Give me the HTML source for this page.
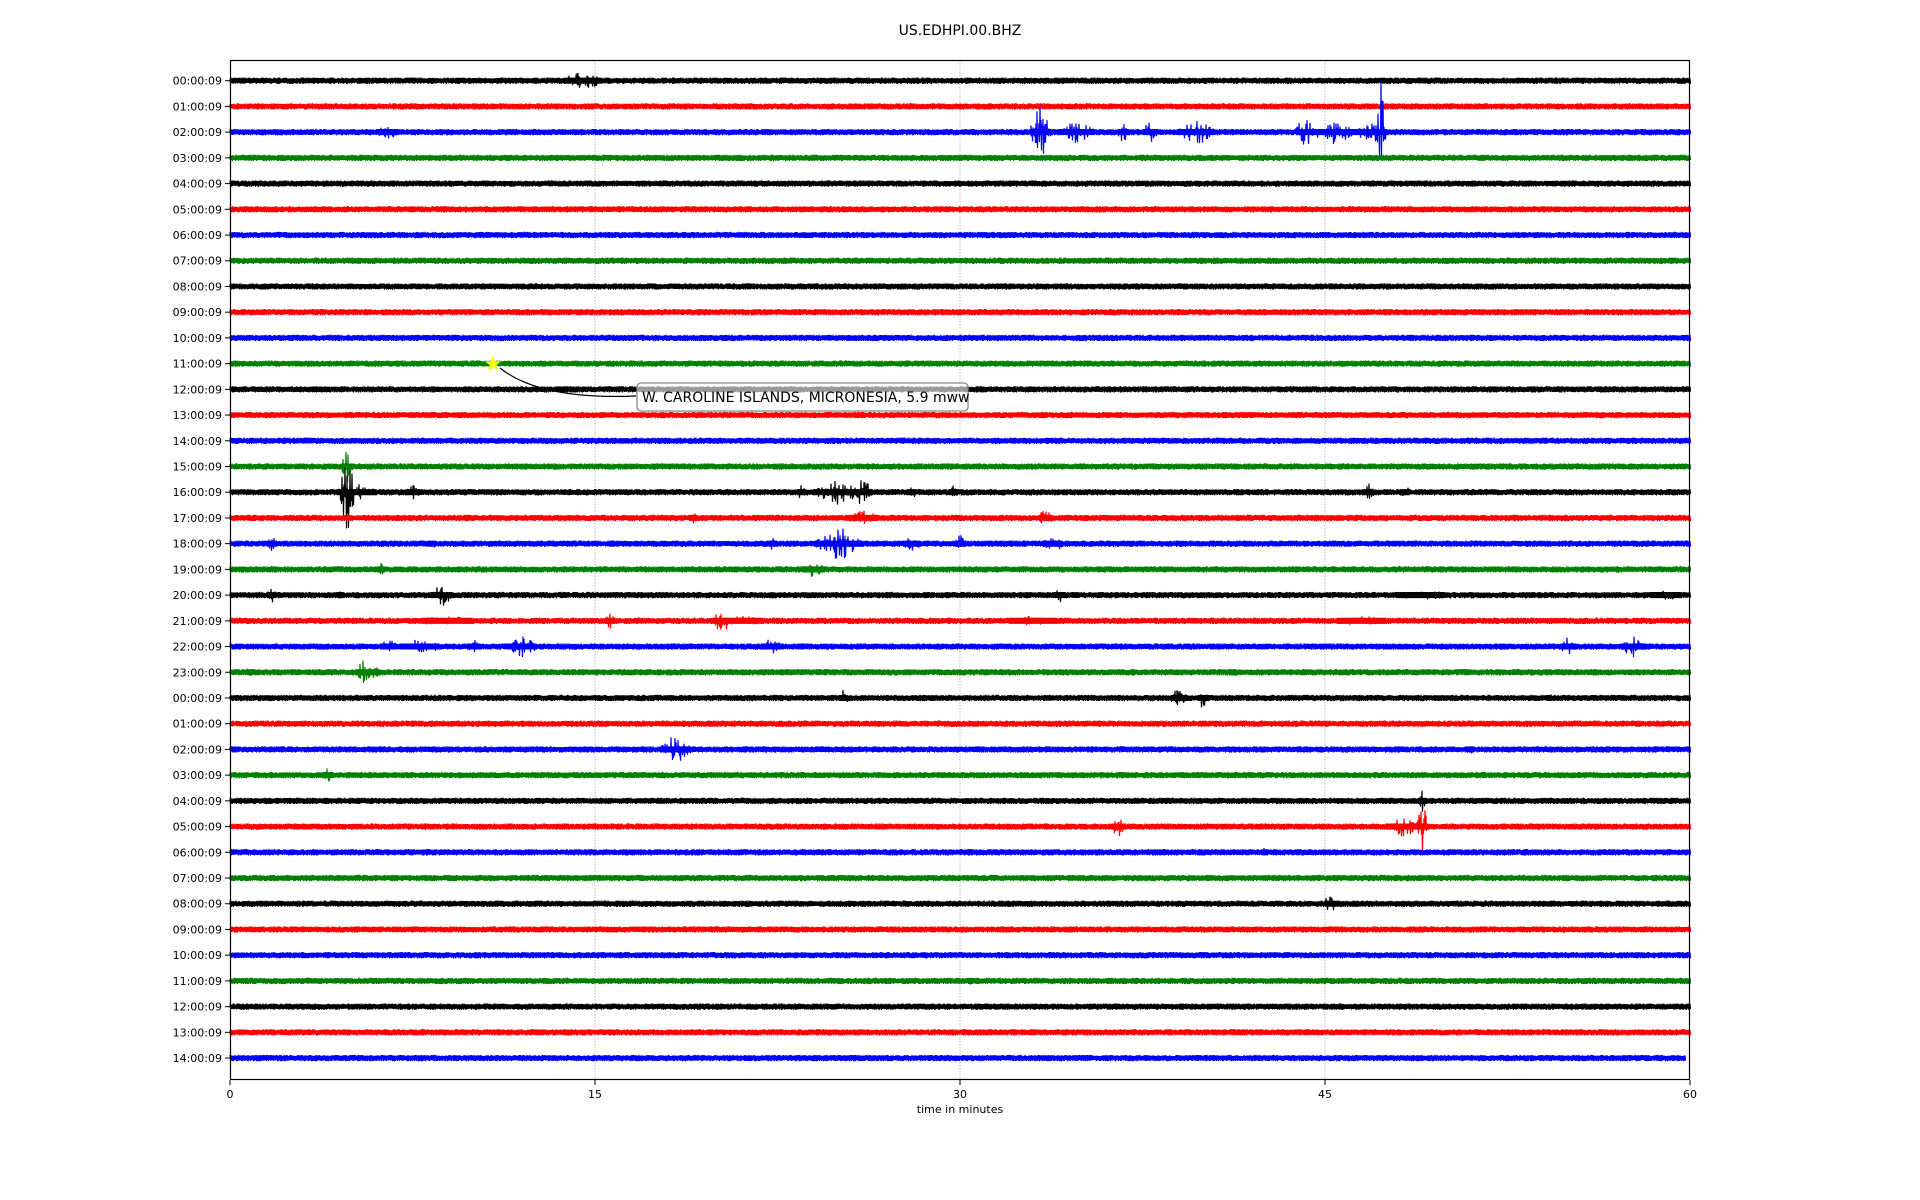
<!DOCTYPE html>
<html><head><meta charset="utf-8"><style>
body{margin:0;background:#fff;}
svg{display:block;font-family:"DejaVu Sans","Liberation Sans",sans-serif;}
</style></head><body>
<svg id="s" width="1920" height="1200" xmlns="http://www.w3.org/2000/svg">
<rect width="1920" height="1200" fill="#fff"/>
<text x="960" y="35" font-size="14" text-anchor="middle">US.EDHPI.00.BHZ</text>
<g id="grid"></g>
<g id="tr"></g>
<rect x="230.5" y="60.5" width="1459" height="1019" fill="none" stroke="#000" stroke-width="1.2"/>
<g id="ax" font-size="11"></g>
<text x="960" y="1113" font-size="11" text-anchor="middle">time in minutes</text>
<g id="ann">
<path d="M500,368 Q540,400 636,396" fill="none" stroke="#000" stroke-width="1.2"/>
<polygon id="star" fill="#ffff00"/>
<rect x="637" y="383" width="331" height="28" rx="4" fill="#fff" fill-opacity="0.6" stroke="#888" stroke-width="1.3"/>
<text x="642" y="402" font-size="14">W. CAROLINE ISLANDS, MICRONESIA, 5.9 mww</text>
</g>
</svg>
<script>
var NS="http://www.w3.org/2000/svg";
function el(t,a,p){var e=document.createElementNS(NS,t);for(var k in a)e.setAttribute(k,a[k]);p.appendChild(e);return e;}
var L=230,R=1690,T=60,B=1080,y0=80.7,dy=25.72;
function X(t){return L+(R-L)*t/60;}
var grid=document.getElementById('grid'),ax=document.getElementById('ax'),tr=document.getElementById('tr');
[15,30,45].forEach(function(t){el('line',{x1:X(t),x2:X(t),y1:T,y2:B,stroke:'#aaa','stroke-width':0.8,'stroke-dasharray':'1.5,1.5'},grid);});
[0,15,30,45,60].forEach(function(t){el('line',{x1:X(t),x2:X(t),y1:B,y2:B+5,stroke:'#000'},ax);var tx=el('text',{x:X(t),y:B+18,'text-anchor':'middle'},ax);tx.textContent=t;});
var cols=['#000','#f00','#00f','#008000'];
var seed=7;function rnd(){seed=(seed*16807)%2147483647;return seed/2147483647;}
var ev={0:[[14.5,12,1]],2:[[6.5,7,0.8],[33.3,30,0.5],[34.8,12,1],[36.7,14,0.3],[37.8,12,0.4],[39.7,14,1],[44.2,22,0.5],[45.3,14,1.2],[46.8,10,1],[47.3,55,0.3]],
15:[[4.8,18,0.3]],16:[[4.8,45,0.4],[5.2,10,1.2],[7.5,8,0.5],[23.5,10,0.3],[25,14,1.3],[26,18,0.5],[28,8,0.3],[29.7,8,0.3],[46.8,10,0.3],[48.3,8,0.3]],
17:[[19,7,0.3],[26,8,1],[33.5,10,0.4]],18:[[1.7,9,0.3],[8.3,7,0.3],[22.3,8,0.3],[25,18,1.2],[28,8,0.6],[30,10,0.3],[33.8,10,0.6]],
19:[[6.2,7,0.3],[24,12,0.6],[57,4,0.3]],20:[[1.7,8,0.3],[4.5,6,0.3],[8.7,12,0.6],[34.1,8,0.4],[48.9,5,2.8],[59,5,1.8]],
21:[[8.9,5,3],[15.6,9,0.3],[20.2,14,0.5],[21,5,2.4],[33,5,2.8],[46.5,5,2.8]],
22:[[6.5,8,0.6],[7.8,10,1.2],[10,8,0.5],[12,12,0.8],[22.3,12,0.6],[55,10,0.5],[57.6,12,0.6]],
23:[[0.8,6,0.3],[5.5,15,0.4],[6,10,0.3],[41.2,7,0.3]],24:[[25.2,9,0.3],[39,12,0.5],[40,14,0.3],[54.2,7,0.2]],
26:[[18.3,16,0.8],[51,6,0.2],[56.6,5,0.2]],27:[[4,7,0.4],[51.5,4,0.3]],28:[[49,14,0.2]],29:[[36.5,12,0.4],[48.2,12,1],[49,28,0.3]],30:[[42.5,6,0.2]],32:[[45.2,12,0.3]],35:[[30.4,6,0.2]]};
function labelFor(i){var h=i%24;return (h<10?'0':'')+h+':00:09';}
for(var i=0;i<39;i++){
 var y=y0+i*dy;
 el('line',{x1:L-5,x2:L,y1:y,y2:y,stroke:'#000'},ax);
 var tx=el('text',{x:L-8,y:y+4,'text-anchor':'end'},ax);tx.textContent=labelFor(i);
 var end=(i==38)?1685:R;var d='';var es=ev[i]||[];
 for(var x=L;x<=end;x+=1){
  var t=(x-L)/(R-L)*60,amp=3.2,isev=false;
  for(var k=0;k<es.length;k++){var e=es[k],dd=Math.abs(t-e[0]);if(dd<e[2]){var a=e[1]*(1-dd/e[2]);if(a>amp){amp=a;isev=true;}}}
  var r1=rnd(),r2=rnd();
  var s1=isev?Math.max(3,amp*Math.pow(r1,2)):amp*(0.6+0.4*r1);
  var s2=isev?Math.max(3,amp*Math.pow(r2,2)):amp*(0.6+0.4*r2);
  d+=(x==L?'M':'L')+x+','+(y-s1).toFixed(1)+'L'+(x+0.5)+','+(y+s2).toFixed(1);
 }
 el('path',{d:d,fill:'none',stroke:cols[i%4],'stroke-width':1.2},tr);
}
var cx=493,cy=364,p=[];for(var j=0;j<10;j++){var r=j%2?3.5:8.5,a=-Math.PI/2+j*Math.PI/5;p.push((cx+r*Math.cos(a)).toFixed(1)+','+(cy+r*Math.sin(a)).toFixed(1));}
document.getElementById('star').setAttribute('points',p.join(' '));
</script>
</body></html>
